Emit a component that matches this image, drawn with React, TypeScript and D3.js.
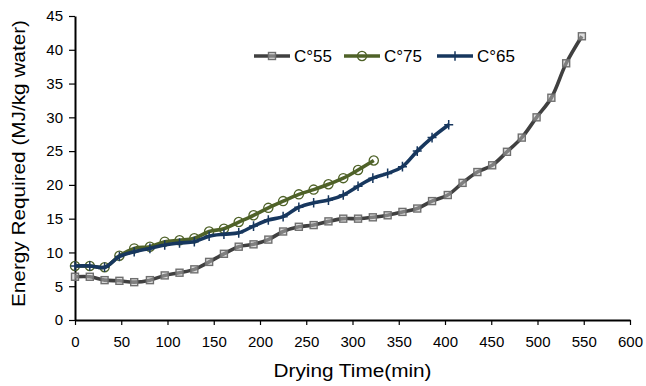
import { useEffect, useRef } from "react";
import * as d3 from "d3";

const W = 646;
const H = 386;
const m = { l: 75, r: 16, t: 16, b: 66 };

// drying time (min) and energy required (MJ/kg water) per temperature
const time55 = [0, 16, 32, 48, 64, 81, 97, 113, 129, 145, 161, 177, 193, 209, 225, 242, 258, 274, 290, 306, 322, 338, 354, 370, 386, 403, 419, 435, 451, 467, 483, 499, 515, 531, 548];
const energy55 = [6.4, 6.4, 5.9, 5.8, 5.6, 5.9, 6.6, 7.0, 7.5, 8.6, 9.8, 10.85, 11.2, 11.9, 13.1, 13.8, 14.05, 14.6, 15.0, 15.0, 15.2, 15.5, 16.0, 16.5, 17.6, 18.5, 20.3, 21.9, 22.9, 24.9, 27.0, 30.0, 32.9, 38.0, 42.0];

const time75 = [0, 16, 32, 48, 64, 81, 97, 113, 129, 145, 161, 177, 193, 209, 225, 242, 258, 274, 290, 306, 323];
const energy75 = [8.0, 8.0, 7.8, 9.5, 10.6, 10.85, 11.6, 11.8, 12.1, 13.1, 13.5, 14.5, 15.5, 16.6, 17.6, 18.6, 19.3, 20.1, 21.0, 22.2, 23.6];

const time65 = [0, 16, 32, 48, 64, 81, 97, 113, 129, 145, 161, 177, 193, 209, 225, 242, 258, 274, 290, 306, 322, 338, 354, 370, 386, 404];
const energy65 = [8.0, 8.0, 7.8, 9.4, 10.1, 10.6, 11.1, 11.4, 11.6, 12.4, 12.7, 12.9, 13.9, 14.8, 15.3, 16.7, 17.35, 17.75, 18.5, 19.8, 21.0, 21.7, 22.7, 25.0, 27.0, 28.9];

const xTicks = [0, 50, 100, 150, 200, 250, 300, 350, 400, 450, 500, 550, 600];
const yTicks = [0, 5, 10, 15, 20, 25, 30, 35, 40, 45];

const FONT = "'Liberation Sans', Arial, sans-serif";

const series = [
  { name: "C°55", x: time55, y: energy55, color: "#404040", marker: "square", legendX: 254 },
  { name: "C°75", x: time75, y: energy75, color: "#4f6228", marker: "circle", legendX: 344 },
  { name: "C°65", x: time65, y: energy65, color: "#17375e", marker: "plus", legendX: 437 },
];

const drawMarker = (g: any, kind: string, color: string) => {
  if (kind === "square") {
    g.append("rect")
      .attr("x", -3.5).attr("y", -3.5).attr("width", 7).attr("height", 7)
      .attr("fill", "#bfbfbf").attr("fill-opacity", 0.5)
      .attr("stroke", "#6f6f6f").attr("stroke-width", 1.4);
  } else if (kind === "circle") {
    g.append("circle")
      .attr("r", 4.6)
      .attr("fill", "none")
      .attr("stroke", color).attr("stroke-width", 1.3);
  } else {
    g.append("path")
      .attr("d", "M-4.5,0H4.5M0,-4.8V4.8")
      .attr("stroke", color).attr("stroke-width", 1.5);
  }
};

const App = () => {
  const svgRef = useRef<SVGSVGElement>(null);

  useEffect(() => {
    const svg = d3.select(svgRef.current);
    svg.selectAll("*").remove();

    const xScale = d3.scaleLinear().domain([0, 600]).range([m.l, W - m.r]);
    const yScale = d3.scaleLinear().domain([0, 45]).range([H - m.b, m.t]);

    // axes
    const xAxis = d3.axisBottom(xScale).tickValues(xTicks).tickSize(5).tickSizeOuter(0).tickPadding(11);
    const yAxis = d3.axisLeft(yScale).tickValues(yTicks).tickSize(6).tickSizeOuter(0).tickPadding(6);

    const gx = svg.append("g").attr("transform", `translate(0,${H - m.b})`).call(xAxis);
    const gy = svg.append("g").attr("transform", `translate(${m.l},0)`).call(yAxis);
    [gx, gy].forEach((g) => {
      g.select(".domain").attr("stroke", "#000").attr("stroke-width", 2);
      g.selectAll(".tick line").attr("stroke", "#000").attr("stroke-width", 1.2);
      g.selectAll(".tick text").attr("fill", "#000").style("font-family", FONT).style("font-size", "15px");
    });

    // axis titles
    svg.append("text")
      .attr("transform", `translate(25,163.5) rotate(-90)`)
      .attr("text-anchor", "middle")
      .attr("textLength", 287).attr("lengthAdjust", "spacingAndGlyphs")
      .style("font-family", FONT).style("font-size", "18px")
      .text("Energy Required (MJ/kg water)");
    svg.append("text")
      .attr("x", (m.l + W - m.r) / 2).attr("y", 376.5)
      .attr("text-anchor", "middle")
      .attr("textLength", 158).attr("lengthAdjust", "spacingAndGlyphs")
      .style("font-family", FONT).style("font-size", "18px")
      .text("Drying Time(min)");

    // lines + markers
    const line = d3.line<number>()
      .curve(d3.curveCatmullRom.alpha(0.5));

    series.forEach((s) => {
      const pts = s.x.map((t, i) => [xScale(t), yScale(s.y[i])] as [number, number]);
      svg.append("path")
        .attr("d", d3.line().curve(d3.curveCatmullRom.alpha(0.5))(pts))
        .attr("fill", "none")
        .attr("stroke", s.color)
        .attr("stroke-width", 3.6)
        .attr("stroke-linejoin", "round");
      pts.forEach(([px, py]) => {
        const g = svg.append("g").attr("transform", `translate(${px},${py})`);
        drawMarker(g, s.marker, s.color);
      });
    });
    void line;

    // legend
    series.forEach((s) => {
      const lg = svg.append("g").attr("transform", `translate(${s.legendX},56)`);
      lg.append("line").attr("x1", 0).attr("x2", 36).attr("y1", 0).attr("y2", 0)
        .attr("stroke", s.color).attr("stroke-width", 3.6);
      const mg = lg.append("g").attr("transform", "translate(18,0)");
      drawMarker(mg, s.marker, s.color);
      lg.append("text")
        .attr("x", 40).attr("y", 6)
        .attr("textLength", 38).attr("lengthAdjust", "spacingAndGlyphs")
        .style("font-family", FONT).style("font-size", "16px")
        .text(s.name);
    });
  }, []);

  return (
    <svg
      ref={svgRef}
      width={W}
      height={H}
      style={{ position: "absolute", left: 0, top: 0, background: "#fff" }}
    ></svg>
  );
};

export default App;
